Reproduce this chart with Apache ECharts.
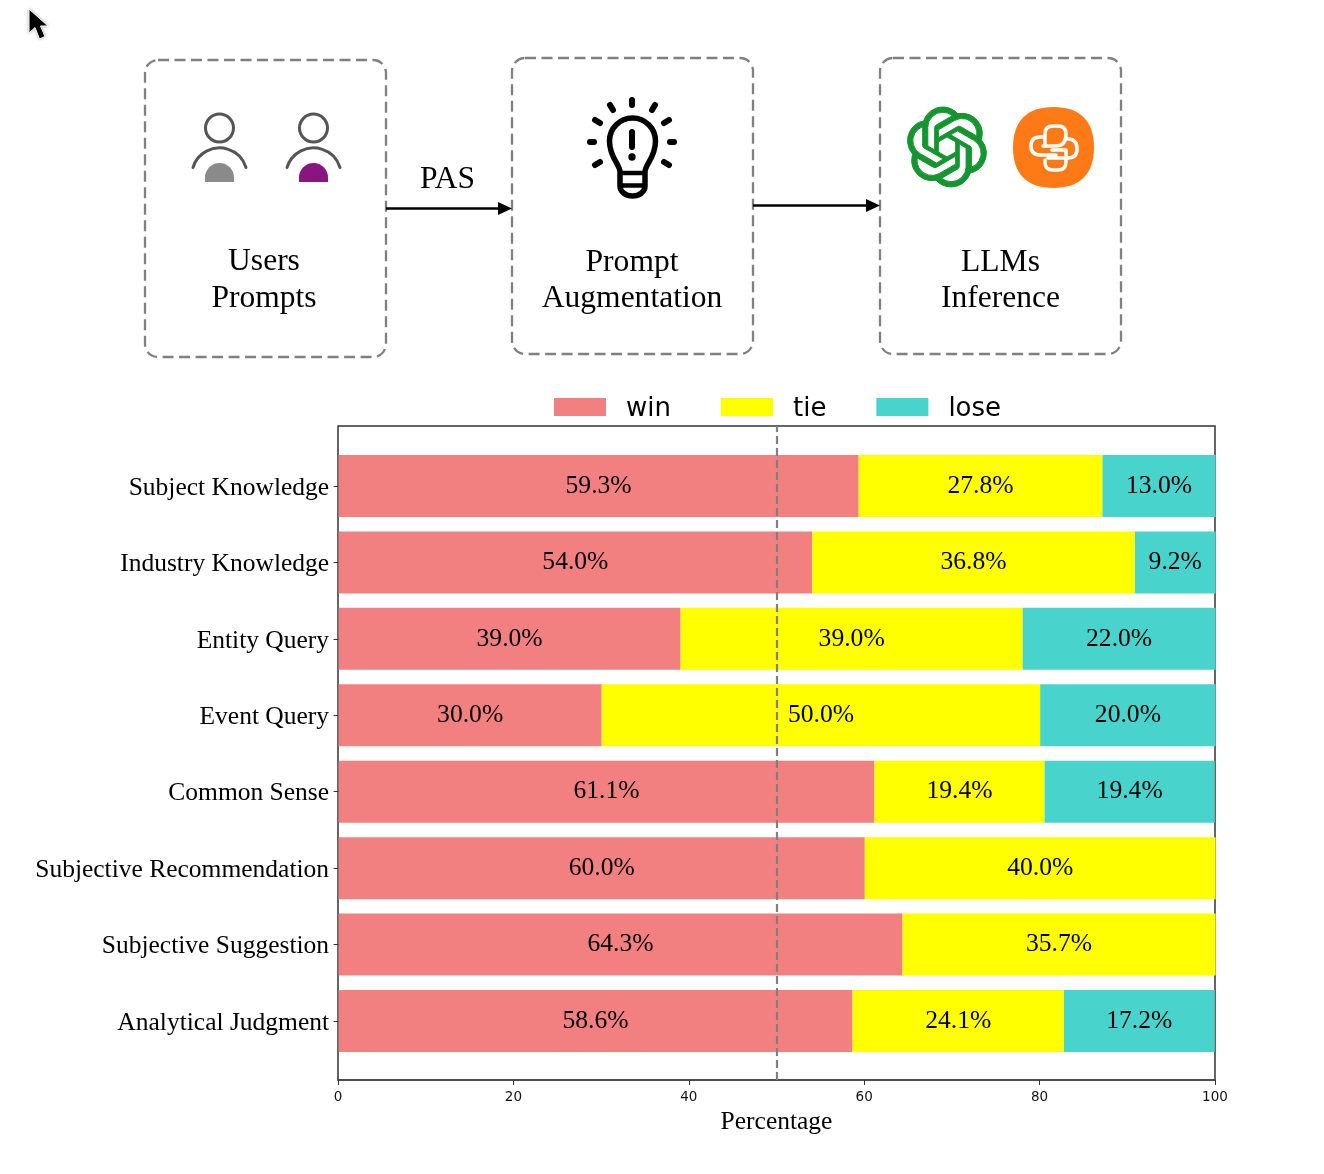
<!DOCTYPE html>
<html><head><meta charset="utf-8">
<script src="https://cdn.jsdelivr.net/npm/echarts@6/dist/echarts.min.js"></script>
<style>html,body{margin:0;padding:0;background:#fff}#c{width:1324px;height:1174px}</style></head>
<body><div id="c"></div>
<script>
const categories = ['Subject Knowledge','Industry Knowledge','Entity Query','Event Query','Common Sense','Subjective Recommendation','Subjective Suggestion','Analytical Judgment'];
const winValues = [59.3,54.0,39.0,30.0,61.1,60.0,64.3,58.6];
const tieValues = [27.8,36.8,39.0,50.0,19.4,40.0,35.7,24.1];
const loseValues = [13.0,9.2,22.0,20.0,19.4,0,0,17.2];
const xTicks = [0,20,40,60,80,100];
const refValue = 50;
const SERIF = '"Liberation Serif","Times New Roman",serif';
const SANS = '"DejaVu Sans",sans-serif';
const BOXC = '#808080';

let pid = 0;
function svg(d,extra){const name='svgp'+(pid++);
 echarts.graphic.registerShape(name,echarts.graphic.extendPath(d,{}));
 return Object.assign({type:name},extra);}
function box(x,y,w,h){return {type:'rect',shape:{x,y,width:w,height:h,r:13},style:{fill:'none',stroke:BOXC,lineWidth:2.3,lineDash:[11,5.5]}};}
function txt(t,x,y){return {type:'text',x,y,scaleX:0.985,style:{text:t,fill:'#000',font:'32px '+SERIF,textAlign:'center',textVerticalAlign:'middle'}};}
function arrow(x1,x2,y){return [
 {type:'line',shape:{x1,y1:y,x2:x2-12,y2:y},style:{stroke:'#000',lineWidth:2.5}},
 {type:'polygon',shape:{points:[[x2-14,y-6.5],[x2,y],[x2-14,y+6.5]]},style:{fill:'#000'}}];}
function user(cx,color){return [
 {type:'circle',shape:{cx,cy:128,r:14},style:{fill:'none',stroke:'#555',lineWidth:3}},
 svg(`M${cx-26.5} 167.5 A27.7 27.7 0 0 1 ${cx+26.5} 167.5`,{style:{fill:'none',stroke:'#555',lineWidth:3,lineCap:'round'}}),
 svg(`M${cx-14.5} 182 L${cx-14.5} 177.5 A14.5 14.5 0 0 1 ${cx+14.5} 177.5 L${cx+14.5} 182 Z`,{style:{fill:color}})];}
function ray(x1,y1,x2,y2){return {type:'line',shape:{x1,y1,x2,y2},style:{stroke:'#000',lineWidth:6,lineCap:'round'}};}
const bulb = [
 svg('M620 172 C620 164 609.5 158 609.5 141 A23 23 0 0 1 655.5 141 C655.5 158 645 164 645 172 L645 186 C645 192 639 196 632.5 196 C626 196 620 192 620 186 Z',{style:{fill:'none',stroke:'#000',lineWidth:5.5,lineJoin:'round'}}),
 {type:'line',shape:{x1:618,y1:173,x2:647,y2:173},style:{stroke:'#000',lineWidth:4.5}},
 {type:'line',shape:{x1:618,y1:185.5,x2:647,y2:185.5},style:{stroke:'#000',lineWidth:4.5}},
 ray(632,132,632,147),{type:'circle',shape:{cx:632,cy:157,r:3.7},style:{fill:'#000'}},
 ray(632,100,632,105),ray(610,105,613,110),ray(655,105,652,110),
 ray(595,120,600,123),ray(669,120,664,123),ray(590,142,594,142),ray(674,142,670,142),
 ray(595,165,600,162),ray(669,165,664,162)];
const openai = svg('M22.2819 9.8211a5.9847 5.9847 0 0 0-.5157-4.9108 6.0462 6.0462 0 0 0-6.5098-2.9A6.0651 6.0651 0 0 0 4.9807 4.1818a5.9847 5.9847 0 0 0-3.9977 2.9 6.0462 6.0462 0 0 0 .7427 7.0966 5.98 5.98 0 0 0 .511 4.9107 6.051 6.051 0 0 0 6.5146 2.9001A5.9847 5.9847 0 0 0 13.2599 24a6.0557 6.0557 0 0 0 5.7718-4.2058 5.9894 5.9894 0 0 0 3.9977-2.9001 6.0557 6.0557 0 0 0-.7475-7.0729zm-9.022 12.6081a4.4755 4.4755 0 0 1-2.8764-1.0408l.1419-.0804 4.7783-2.7582a.7948.7948 0 0 0 .3927-.6813v-6.7369l2.02 1.1686a.071.071 0 0 1 .038.052v5.5826a4.504 4.504 0 0 1-4.4945 4.4944zm-9.6607-4.1254a4.4708 4.4708 0 0 1-.5346-3.0137l.142.0852 4.783 2.7582a.7712.7712 0 0 0 .7806 0l5.8428-3.3685v2.3324a.0804.0804 0 0 1-.0332.0615L9.74 19.9502a4.4992 4.4992 0 0 1-6.1408-1.6464zM2.3408 7.8956a4.485 4.485 0 0 1 2.3655-1.9728V11.6a.7664.7664 0 0 0 .3879.6765l5.8144 3.3543-2.0201 1.1685a.0757.0757 0 0 1-.071 0l-4.8303-2.7865A4.504 4.504 0 0 1 2.3408 7.872zm16.5963 3.8558L13.1038 8.364 15.1192 7.2a.0757.0757 0 0 1 .071 0l4.8303 2.7913a4.4944 4.4944 0 0 1-.6765 8.1042v-5.6772a.79.79 0 0 0-.407-.667zm2.0107-3.0231l-.142-.0852-4.7735-2.7818a.7759.7759 0 0 0-.7854 0L9.409 9.2297V6.8974a.0662.0662 0 0 1 .0284-.0615l4.8303-2.7866a4.4992 4.4992 0 0 1 6.6802 4.66zM8.3065 12.863l-2.02-1.1638a.0804.0804 0 0 1-.038-.0567V6.0742a4.4992 4.4992 0 0 1 7.3757-3.4537l-.142.0805L8.704 5.459a.7948.7948 0 0 0-.3927.6813zm1.0976-2.3654l2.602-1.4998 2.6069 1.4998v2.9994l-2.5974 1.4997-2.6067-1.4997Z',
 {x:907,y:107,scaleX:3.33,scaleY:3.33,style:{fill:'#14952f',stroke:'#14952f',lineWidth:0.3}});
const orange = [
 svg('M1053.5 107 C1080 107 1094 121 1094 147.5 C1094 174 1080 188 1053.5 188 C1027 188 1013 174 1013 147.5 C1013 121 1027 107 1053.5 107 Z',{style:{fill:'#fe7a16'}}),
 svg('M1043 137 L1040 137 Q1031 137 1031 146 Q1031 155 1040 155 L1056 155 M1045 144 L1045 134 Q1045 126 1053 126 L1058 126 Q1066 126 1066 134 Q1066 146 1056 146 L1043 146 M1068 139 Q1077 139 1077 149 Q1077 158 1068 158 L1048 158 M1045 160 L1045 162 Q1045 170 1053 170 L1058 170 Q1066 170 1066 162 L1066 150 L1052 150',{style:{fill:'none',stroke:'#fff',lineWidth:3.5,lineCap:'round',lineJoin:'round'}})];
const cursor = svg('M29 9 L29 33 L35 27.5 L39.5 39 L45 36.5 L40.5 26 L48 26 Z',{style:{fill:'#000',stroke:'#fff',lineWidth:1,shadowBlur:3,shadowColor:'rgba(0,0,0,0.3)'}});

const graphics = [cursor,
 box(145,60,241,297),box(512,58,241,296),box(880,58,241,296),
 ...user(219.5,'#8a8a8a'),...user(313.5,'#8a1580'),...bulb,openai,...orange,
 ...arrow(386,512,208.5),...arrow(753,880,205.5),
 txt('PAS',447.5,180),txt('Users',264,262),txt('Prompts',264,299),
 txt('Prompt',632,263),txt('Augmentation',632,299),txt('LLMs',1000.5,263),txt('Inference',1000.5,299)
];

function stack(name,data,color){return {name,type:'bar',stack:'t',xAxisIndex:1,yAxisIndex:1,barWidth:62,data,
 itemStyle:{color},label:{show:true,position:'inside',color:'#000',fontFamily:SERIF,fontSize:25.6,
 formatter:p=>p.value>0?p.value.toFixed(1)+'%':''}};}

const chart = echarts.init(document.getElementById('c'),null,{renderer:'canvas'});
chart.setOption({
 animation:false,
 backgroundColor:'#fff',
 graphic:{elements:graphics},
 legend:{left:554,top:396,padding:0,itemWidth:52,itemHeight:18,itemGap:50,icon:'rect',data:['win','tie','lose'],
  formatter:'{a|{name}}',
  textStyle:{fontFamily:SANS,fontSize:26,color:'#000',padding:[0,0,0,15],
   rich:{a:{fontFamily:SANS,fontSize:26,color:'#000',padding:[4,0,0,0]}}}},
 grid:[
  {left:338,top:426,width:877,height:654,show:true,borderColor:'#333',borderWidth:1.5,backgroundColor:'transparent'},
  {left:338.6,top:447.8,width:877,height:611.4},
  {left:338.6,top:449.8,width:877,height:611.4}
 ],
 xAxis:[
  {gridIndex:0,type:'value',min:0,max:100,interval:20,splitLine:{show:false},
   axisLine:{show:true,lineStyle:{color:'#444',width:1.5}},axisTick:{show:true,length:5,lineStyle:{color:'#333'}},
   axisLabel:{fontFamily:SANS,fontSize:13.5,color:'#111',margin:10,customValues:xTicks,formatter:v=>String(v)},
   name:'Percentage',nameLocation:'middle',nameGap:29,nameTextStyle:{fontFamily:SERIF,fontSize:25.5,color:'#000'}},
  {gridIndex:1,type:'value',min:0,max:100,show:false},
  {gridIndex:2,type:'value',min:0,max:100,show:false}
 ],
 yAxis:[
  {gridIndex:0,type:'value',min:0,max:1,show:false},
  {gridIndex:1,type:'category',inverse:true,data:categories,
   axisLine:{show:false},axisTick:{show:true,alignWithLabel:true,length:5,lineStyle:{color:'#333'}},
   axisLabel:{show:false}},
  {gridIndex:2,type:'category',inverse:true,data:categories,
   axisLine:{show:false},axisTick:{show:false},
   axisLabel:{fontFamily:SERIF,fontSize:25.5,color:'#000',margin:9.5,interval:0}}
 ],
 series:[
  stack('win',winValues,'#f28080'),
  stack('tie',tieValues,'#ffff00'),
  stack('lose',loseValues,'#48d4cc'),
  {name:'ref',type:'line',xAxisIndex:0,yAxisIndex:0,data:[],z:10,silent:true,
   markLine:{silent:true,symbol:'none',label:{show:false},lineStyle:{color:'#808080',type:[8,4],width:2.2},
    data:[{xAxis:refValue}]}}
 ]
});
</script></body></html>
